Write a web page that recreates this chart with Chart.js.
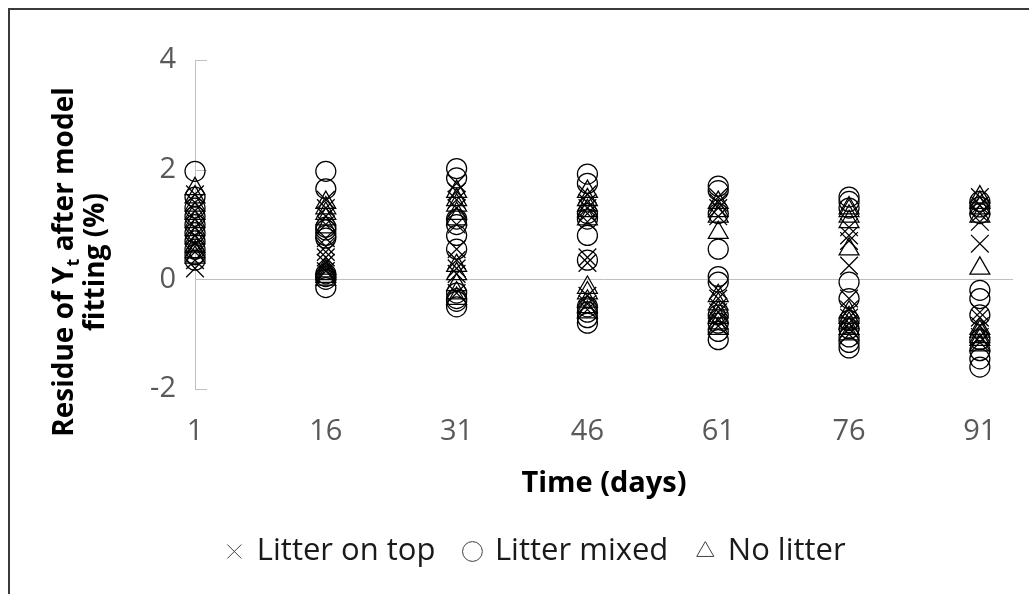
<!DOCTYPE html>
<html>
<head>
<meta charset="utf-8">
<script src="https://cdn.jsdelivr.net/npm/chart.js@4.4.1/dist/chart.umd.min.js"></script>
<style>
  html, body { margin: 0; padding: 0; background: #ffffff; }
  #wrap { width: 1029px; height: 594px; }
</style>
</head>
<body>
<div id="wrap"><canvas id="c" width="1029" height="594"></canvas></div>
<script>
// ---- data ----
const times = [1, 16, 31, 46, 61, 76, 91];
const xTickLabels = ['1', '16', '31', '46', '61', '76', '91'];
const yTickValues = [-2, 0, 2, 4];
const seriesNames = ['Litter on top', 'Litter mixed', 'No litter'];

const litterOnTop = [
  [1.55, 1.4, 1.25, 1.1, 0.95, 0.8, 0.65, 0.5, 0.35, 0.2],
  [1.45, 1.3, 1.15, 1.0, 0.75, 0.6, 0.5, 0.4, 0.3, 0.15],
  [1.75, 1.6, 1.45, 1.3, 1.0, 0.55, 0.35, 0.2, 0.1, -0.25],
  [1.55, 1.4, 1.3, 1.2, 1.05, 0.4, 0.3, -0.3, -0.45, -0.55],
  [1.5, 1.4, 1.3, 1.15, -0.2, -0.35, -0.5, -0.6, -0.75, -0.85],
  [0.95, 0.8, 0.7, 0.25, -0.35, -0.55, -0.7, -0.8, -0.9, -1.0],
  [1.5, 1.35, 1.2, 1.05, 0.65, -0.6, -0.7, -0.85, -1.05, -1.15]
];
const litterMixed = [
  [1.97, 1.5, 1.3, 1.15, 1.0, 0.85, 0.7, 0.55, 0.45, 0.35],
  [1.97, 1.65, 0.95, 0.9, 0.8, 0.75, 0.1, 0.05, 0.0, -0.15],
  [2.02, 1.85, 1.1, 1.0, 0.8, 0.55, -0.25, -0.35, -0.4, -0.5],
  [1.92, 1.75, 1.2, 1.1, 0.8, 0.35, -0.5, -0.6, -0.7, -0.8],
  [1.7, 1.62, 1.2, 0.55, 0.05, -0.05, -0.65, -0.8, -0.95, -1.1],
  [1.5, 1.42, 1.3, -0.05, -0.35, -0.75, -0.9, -1.05, -1.15, -1.25],
  [1.42, 1.32, 1.2, -0.2, -0.35, -0.65, -1.1, -1.3, -1.45, -1.6]
];
const noLitter = [
  [1.65, 1.5, 1.35, 1.2, 1.05, 0.9, 0.75, 0.6, 0.5, 0.4],
  [1.4, 1.3, 1.2, 1.1, 0.95, 0.2, 0.15, 0.1, 0.05, 0.0],
  [1.6, 1.45, 1.35, 1.2, 1.1, 0.25, 0.1, -0.1, -0.25, -0.35],
  [1.6, 1.45, 1.35, 1.25, 1.1, -0.15, -0.25, -0.4, -0.5, -0.6],
  [1.4, 1.25, 1.15, 0.85, -0.3, -0.45, -0.6, -0.7, -0.8, -0.9],
  [1.3, 1.25, 1.15, 1.05, 0.55, -0.6, -0.7, -0.8, -0.9, -1.0],
  [1.5, 1.4, 1.3, 1.15, 0.2, -0.9, -0.95, -1.05, -1.1, -1.2]
];

function toPoints(groups) {
  const pts = [];
  groups.forEach((vals, i) => vals.forEach(v => pts.push({ x: times[i], y: v })));
  return pts;
}

const FONT = "'Open Sans', 'DejaVu Sans', sans-serif";

const framePlugin = {
  id: 'frameAndTitle',
  beforeDraw(chart) {
    const ctx = chart.ctx;
    ctx.save();
    ctx.fillStyle = '#ffffff';
    ctx.fillRect(0, 0, chart.width, chart.height);
    ctx.strokeStyle = '#3a3a3a';
    ctx.lineWidth = 2;
    ctx.beginPath();
    ctx.moveTo(9, chart.height + 2);
    ctx.lineTo(9, 9);
    ctx.lineTo(chart.width + 2, 9);
    ctx.stroke();
    ctx.restore();
  },
  beforeDatasetsDraw(chart) {
    // short inside tick marks on the value axis
    const ctx = chart.ctx;
    const ys = chart.scales.y;
    ctx.save();
    ctx.strokeStyle = '#bfbfbf';
    ctx.lineWidth = 1;
    ys.ticks.forEach(t => {
      const py = Math.round(ys.getPixelForValue(t.value)) + 0.5;
      ctx.beginPath();
      ctx.moveTo(ys.right, py);
      ctx.lineTo(ys.right + 12, py);
      ctx.stroke();
    });
    ctx.restore();
  },
  afterDraw(chart) {
    // two-line rotated value-axis title with subscript t
    const ctx = chart.ctx;
    const cy = 262;
    const big = "bold 28px " + FONT;
    const small = "bold 18px " + FONT;
    ctx.save();
    ctx.fillStyle = '#000000';
    ctx.textBaseline = 'alphabetic';
    ctx.textAlign = 'left';
    const p1 = 'Residue of Y', p2 = 't', p3 = ' after model';
    ctx.font = big; const w1 = ctx.measureText(p1).width; const w3 = ctx.measureText(p3).width;
    ctx.font = small; const w2 = ctx.measureText(p2).width;
    const W = w1 + w2 + w3;
    ctx.translate(73, cy);
    ctx.rotate(-Math.PI / 2);
    let x = -W / 2;
    ctx.font = big; ctx.fillText(p1, x, 0); x += w1;
    ctx.font = small; ctx.fillText(p2, x, 6); x += w2;
    ctx.font = big; ctx.fillText(p3, x, 0);
    ctx.restore();
    ctx.save();
    ctx.fillStyle = '#000000';
    ctx.font = big;
    ctx.textBaseline = 'alphabetic';
    ctx.textAlign = 'center';
    ctx.translate(104, cy);
    ctx.rotate(-Math.PI / 2);
    ctx.fillText('fitting (%)', 0, 0);
    ctx.restore();
  }
};

const commonPoint = {
  showLine: false,
  clip: false,
  borderColor: '#000000',
  backgroundColor: 'rgba(0,0,0,0)',
  borderWidth: 1.25,
  pointBorderWidth: 1.25,
  pointBorderColor: '#000000',
  pointBackgroundColor: 'rgba(0,0,0,0)'
};

new Chart(document.getElementById('c'), {
  type: 'scatter',
  data: {
    datasets: [
      Object.assign({ label: seriesNames[0], data: toPoints(litterOnTop), pointStyle: 'crossRot', pointRadius: 12.5 }, commonPoint),
      Object.assign({ label: seriesNames[1], data: toPoints(litterMixed), pointStyle: 'circle', pointRadius: 10 }, commonPoint),
      Object.assign({ label: seriesNames[2], data: toPoints(noLitter), pointStyle: 'triangle', pointRadius: 11.5 }, commonPoint)
    ]
  },
  options: {
    responsive: false,
    animation: false,
    devicePixelRatio: 1,
    layout: { padding: { left: 60, right: 16, top: 60, bottom: 17 } },
    plugins: {
      tooltip: { enabled: false },
      legend: {
        position: 'bottom',
        labels: {
          usePointStyle: true,
          boxWidth: 14,
          boxHeight: 14,
          padding: 30,
          color: '#1a1a1a',
          font: { family: FONT, size: 31 },
          generateLabels(chart) {
            return chart.data.datasets.map((ds, i) => ({
              text: ds.label,
              pointStyle: ds.pointStyle,
              fillStyle: 'rgba(0,0,0,0)',
              strokeStyle: '#404040',
              lineWidth: 1,
              fontColor: '#1a1a1a',
              hidden: false,
              datasetIndex: i
            }));
          }
        }
      }
    },
    scales: {
      x: {
        type: 'linear',
        min: 1,
        max: 94.8,
        afterBuildTicks(scale) { scale.ticks = times.map(v => ({ value: v })); },
        afterFit(scale) { scale.height = 117; },
        ticks: {
          color: '#595959',
          padding: 25,
          maxRotation: 0,
          autoSkip: false,
          font: { family: FONT, size: 29, lineHeight: 1.2 },
          callback(value) { const i = times.indexOf(value); return i >= 0 ? xTickLabels[i] : ''; }
        },
        grid: { display: false, drawTicks: false },
        border: { display: false },
        title: {
          display: true,
          text: 'Time (days)',
          color: '#000000',
          font: { family: FONT, size: 29, weight: 'bold', lineHeight: 1.2 },
          padding: { top: 18, bottom: 5 }
        }
      },
      y: {
        min: -2,
        max: 4,
        afterBuildTicks(scale) { scale.ticks = yTickValues.map(v => ({ value: v })); },
        afterFit(scale) { scale.width = 135; },
        ticks: {
          color: '#595959',
          padding: 19,
          font: { family: FONT, size: 29, lineHeight: 1.2 }
        },
        grid: {
          drawTicks: false,
          color(ctx) { return ctx.tick && ctx.tick.value === 0 ? '#bfbfbf' : 'rgba(0,0,0,0)'; },
          lineWidth: 1
        },
        border: { display: true, color: '#bfbfbf', width: 1 }
      }
    }
  },
  plugins: [framePlugin]
});
</script>
</body>
</html>
